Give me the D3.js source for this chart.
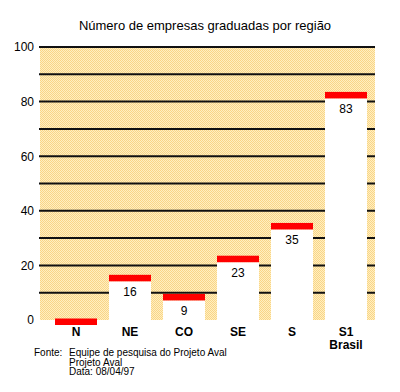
<!DOCTYPE html>
<html><head><meta charset="utf-8">
<script src="https://cdn.jsdelivr.net/npm/d3@7"></script>
<style>body{margin:0;background:#fff}svg{display:block}text{font-family:"Liberation Sans",Arial,Helvetica,sans-serif}</style>
</head><body>
<script>
const categories = ["N","NE","CO","SE","S","S1"];
const subLabels = ["","","","","","Brasil"];
const values = [0,16,9,23,35,83];
const yTicks = [0,20,40,60,80,100];
const gridValues = [10,20,30,40,50,60,70,80,90,100];
const title = "Número de empresas graduadas por região";
const footerLines = ["Equipe de pesquisa do Projeto Aval","Projeto Aval","Data: 08/04/97"];

const data = categories.map((c,i)=>({cat:c, sub:subLabels[i], value:values[i]}));

const W=400,H=392;
const svg=d3.select("body").append("svg").attr("width",W).attr("height",H);
const defs=svg.append("defs");
const pat=defs.append("pattern").attr("id","dots").attr("patternUnits","userSpaceOnUse").attr("width",2).attr("height",2);
pat.append("rect").attr("width",2).attr("height",2).attr("fill","#fff0c0");
pat.append("rect").attr("width",1).attr("height",1).attr("fill","#f9d488");
pat.append("rect").attr("x",1).attr("y",1).attr("width",1).attr("height",1).attr("fill","#f9d488");

const y=d3.scaleLinear().domain([0,100]).range([320,47]);
const x=d3.scaleBand().domain(categories).range([49,373]).paddingInner(12/54).paddingOuter(6/54);
const px0=40, px1=375;

svg.append("rect").attr("x",px0).attr("y",y(100)).attr("width",px1-px0).attr("height",y(0)-y(100)).attr("fill","url(#dots)");

svg.selectAll("line.grid").data(gridValues).join("line").attr("class","grid")
  .attr("x1",px0-1).attr("x2",px1).attr("y1",d=>y(d)).attr("y2",d=>y(d))
  .attr("stroke","#111").attr("stroke-width",2);

const yAxis=svg.append("g").attr("transform",`translate(${px0},0)`)
  .call(d3.axisLeft(y).tickValues(yTicks).tickSize(0).tickPadding(6));
yAxis.select(".domain").remove();
yAxis.selectAll("text").attr("font-size",12).attr("fill","#000").attr("font-family","Liberation Sans, Arial, sans-serif");

const bars=svg.append("g");
bars.selectAll("rect.bar").data(data).join("rect").attr("class","bar")
  .attr("x",d=>x(d.cat)).attr("width",x.bandwidth())
  .attr("y",d=>y(d.value)+5).attr("height",d=>Math.max(0,y(0)-y(d.value)-5)).attr("fill","#fff");
bars.selectAll("rect.cap").data(data).join("rect").attr("class","cap")
  .attr("x",d=>x(d.cat)).attr("width",x.bandwidth())
  .attr("y",d=>y(d.value)-1.5).attr("height",6.5).attr("fill","#ff0000");
bars.selectAll("text.val").data(data.filter(d=>d.value>0)).join("text").attr("class","val")
  .attr("x",d=>x(d.cat)+x.bandwidth()/2).attr("y",d=>y(d.value)+20)
  .attr("text-anchor","middle").attr("font-size",12).attr("fill","#000").text(d=>d.value);

const xAxis=svg.append("g").attr("transform",`translate(0,${y(0)})`)
  .call(d3.axisBottom(x).tickSize(0).tickPadding(7));
xAxis.select(".domain").remove();
xAxis.selectAll("text").attr("font-size",12).attr("font-weight","bold").attr("fill","#000").attr("font-family","Liberation Sans, Arial, sans-serif");
svg.selectAll("text.sub").data(data.filter(d=>d.sub)).join("text").attr("class","sub")
  .attr("x",d=>x(d.cat)+x.bandwidth()/2).attr("y",348.5).attr("text-anchor","middle")
  .attr("font-size",12).attr("font-weight","bold").text(d=>d.sub);

svg.append("text").attr("x",205).attr("y",30).attr("text-anchor","middle").attr("font-size",13).attr("fill","#000").text(title);

svg.append("text").attr("x",34).attr("y",356).attr("font-size",10).text("Fonte:");
svg.selectAll("text.foot").data(footerLines).join("text").attr("class","foot")
  .attr("x",69).attr("y",(d,i)=>356+i*9.5).attr("font-size",10).text(d=>d);
</script>
</body></html>
